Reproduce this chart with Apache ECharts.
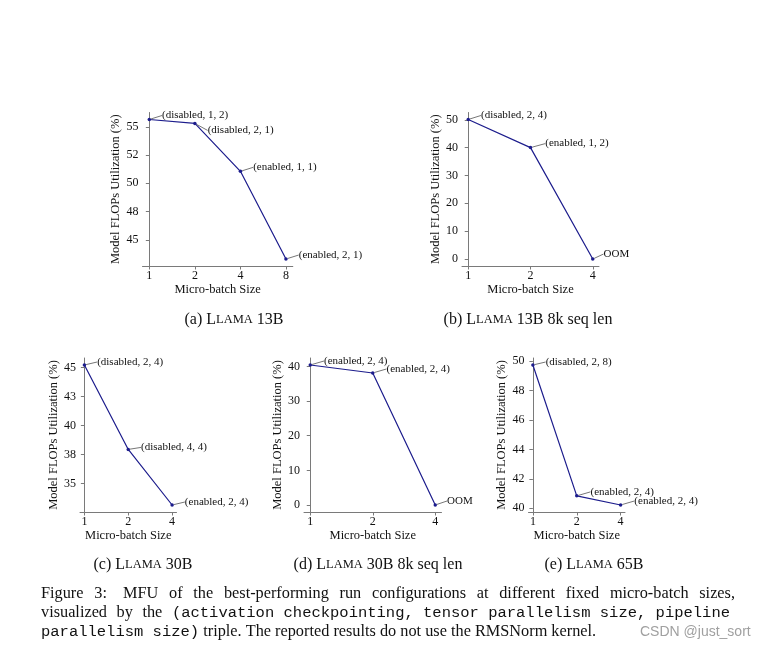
<!DOCTYPE html>
<html><head><meta charset="utf-8">
<script src="https://cdn.jsdelivr.net/npm/echarts@6/dist/echarts.min.js"></script>
<style>html,body{margin:0;padding:0;background:#fff}#c{width:762px;height:648px}</style>
</head><body><div id="c"></div>
<script>
// ---------- data ----------
const microBatchA = ['1', '2', '4', '8'];
const mfuA = [55.65, 55.3, 51.06, 43.3];
const annotA = ['(disabled, 1, 2)', '(disabled, 2, 1)', '(enabled, 1, 1)', '(enabled, 2, 1)'];
const yTickValsA = [45, 47.5, 50, 52.5, 55];
const yTickLabelsA = ['45', '48', '50', '52', '55'];

const microBatchB = ['1', '2', '4'];
const mfuB = [50.1, 40.0, 0];
const annotB = ['(disabled, 2, 4)', '(enabled, 1, 2)', 'OOM'];
const yTickValsB = [0, 10, 20, 30, 40, 50];
const yTickLabelsB = ['0', '10', '20', '30', '40', '50'];

const microBatchC = ['1', '2', '4'];
const mfuC = [45.22, 37.93, 33.13];
const annotC = ['(disabled, 2, 4)', '(disabled, 4, 4)', '(enabled, 2, 4)'];
const yTickValsC = [35, 37.5, 40, 42.5, 45];
const yTickLabelsC = ['35', '38', '40', '43', '45'];

const microBatchD = ['1', '2', '4'];
const mfuD = [40.4, 38.1, 0];
const annotD = ['(enabled, 2, 4)', '(enabled, 2, 4)', 'OOM'];
const yTickValsD = [0, 10, 20, 30, 40];
const yTickLabelsD = ['0', '10', '20', '30', '40'];

const microBatchE = ['1', '2', '4'];
const mfuE = [49.73, 40.84, 40.22];
const annotE = ['(disabled, 2, 8)', '(enabled, 2, 4)', '(enabled, 2, 4)'];
const yTickValsE = [40, 42, 44, 46, 48, 50];
const yTickLabelsE = ['40', '42', '44', '46', '48', '50'];

const xTitle = 'Micro-batch Size';
const yTitle = 'Model FLOPs Utilization (%)';
const subTitles = [
  ['(a) L', 'LAMA', ' 13B'],
  ['(b) L', 'LAMA', ' 13B 8k seq len'],
  ['(c) L', 'LAMA', ' 30B'],
  ['(d) L', 'LAMA', ' 30B 8k seq len'],
  ['(e) L', 'LAMA', ' 65B']
];
const captionLine1 = ['Figure', '3:', 'MFU', 'of', 'the', 'best-performing', 'run', 'configurations', 'at', 'different', 'fixed', 'micro-batch', 'sizes,'];
const captionLine2Serif = ['visualized', 'by', 'the'];
const captionLine2Mono = '(activation checkpointing, tensor parallelism size, pipeline';
const captionLine3Mono = 'parallelism size)';
const captionLine3Serif = ' triple. The reported results do not use the RMSNorm kernel.';
const watermark = 'CSDN @just_sort';

// ---------- layout / style ----------
const SERIF = '"Liberation Serif", "Times New Roman", serif';
const MONO = '"Liberation Mono", "DejaVu Sans Mono", monospace';
const AXIS_COLOR = '#7a7a7a';
const LINE_COLOR = '#1c1c8c';
const CAP_SERIF_SIZE = 16.3, CAP_MONO_SIZE = 15.5;

const panels = [
  { x: microBatchA, y: mfuA, ann: annotA, tv: yTickValsA, tl: yTickLabelsA,
    grid: { left: 142.5, top: 112.5, width: 150.3, height: 153.5 },
    title: { x: 234, y: 320 }, offs: [[11, -4], [11, 7], [11, -4], [11, -4]] },
  { x: microBatchB, y: mfuB, ann: annotB, tv: yTickValsB, tl: yTickLabelsB,
    grid: { left: 462, top: 112.5, width: 137, height: 153.5 },
    title: { x: 528, y: 320 }, offs: [[11, -4], [13, -4], [9, -5]] },
  { x: microBatchC, y: mfuC, ann: annotC, tv: yTickValsC, tl: yTickLabelsC,
    grid: { left: 80, top: 358, width: 96.5, height: 154 },
    title: { x: 143, y: 565 }, offs: [[11, -3], [11, -2], [11, -3]] },
  { x: microBatchD, y: mfuD, ann: annotD, tv: yTickValsD, tl: yTickLabelsD,
    grid: { left: 304, top: 358, width: 137.5, height: 154 },
    title: { x: 378, y: 565 }, offs: [[12, -4], [12, -4], [10, -4]] },
  { x: microBatchE, y: mfuE, ann: annotE, tv: yTickValsE, tl: yTickLabelsE,
    grid: { left: 528.5, top: 358, width: 96.5, height: 154 },
    title: { x: 594, y: 565 }, offs: [[11, -3], [12, -4], [12, -4]] }
];

const grids = [], xAxes = [], yAxes = [], series = [], graphics = [];

panels.forEach((p, i) => {
  const n = p.x.length;
  const lo = Math.min(...p.y), hi = Math.max(...p.y);
  const pad = (hi - lo) * 0.05;
  grids.push(Object.assign({ containLabel: false }, p.grid));
  const xIdx = p.x.map((_, j) => j);
  xAxes.push({
    type: 'value', gridIndex: i, min: -0.05 * (n - 1), max: (n - 1) * 1.05,
    name: xTitle, nameLocation: 'middle', nameGap: 17,
    nameTextStyle: { fontFamily: SERIF, fontSize: 12.5, color: '#111' },
    axisLine: { show: true, onZero: false, lineStyle: { color: AXIS_COLOR, width: 1 } },
    axisTick: { show: true, inside: false, length: 3.5, customValues: xIdx, lineStyle: { color: AXIS_COLOR } },
    axisLabel: { customValues: xIdx, margin: 4, fontFamily: SERIF, fontSize: 12, color: '#111',
      formatter: v => p.x[Math.round(v)] },
    splitLine: { show: false }
  });
  yAxes.push({
    type: 'value', gridIndex: i, min: lo - pad, max: hi + pad,
    name: yTitle, nameLocation: 'middle', nameGap: 20, nameRotate: 90,
    nameTextStyle: { fontFamily: SERIF, fontSize: 12.5, color: '#111' },
    axisLine: { show: true, lineStyle: { color: AXIS_COLOR, width: 1 } },
    axisTick: { show: true, inside: false, length: 3.5, customValues: p.tv, lineStyle: { color: AXIS_COLOR } },
    axisLabel: { customValues: p.tv, margin: 4, fontFamily: SERIF, fontSize: 12, color: '#111',
      formatter: v => { const k = p.tv.findIndex(t => Math.abs(t - v) < 1e-6); return k >= 0 ? p.tl[k] : ''; } },
    splitLine: { show: false }
  });
  series.push({
    type: 'line', xAxisIndex: i, yAxisIndex: i,
    data: p.y.map((v, j) => [j, v]),
    symbol: 'circle', symbolSize: 3.5, showSymbol: true,
    lineStyle: { color: LINE_COLOR, width: 1.2 },
    itemStyle: { color: LINE_COLOR },
    label: { show: true, position: 'right', distance: 0,
      formatter: prm => p.ann[prm.dataIndex],
      fontFamily: SERIF, fontSize: 11, color: '#111' },
    labelLayout: prm => ({ dx: p.offs[prm.dataIndex][0], dy: p.offs[prm.dataIndex][1] }),
    labelLine: { show: true, lineStyle: { color: '#777', width: 1 } },
    emphasis: { disabled: true }
  });
  const t = subTitles[i];
  graphics.push({
    type: 'text', x: p.title.x, y: p.title.y,
    style: { text: '{n|' + t[0] + '}{s|' + t[1] + '}{n|' + t[2] + '}',
      align: 'center', verticalAlign: 'middle',
      rich: { n: { fontFamily: SERIF, fontSize: 16, fill: '#111' },
              s: { fontFamily: SERIF, fontSize: 12.5, fill: '#111' } } }
  });
});

// ---------- caption (justified like the LaTeX original) ----------
const mctx = document.createElement('canvas').getContext('2d');
function tw(s, size, fam) { mctx.font = size + 'px ' + fam; return mctx.measureText(s).width; }
const serifFont = CAP_SERIF_SIZE + 'px ' + SERIF;

// line 1: justify to x=735, the gap after "3:" is 1.5x wider
(function () {
  const left = 41, right = 735;
  const wordsW = captionLine1.reduce((a, w) => a + tw(w, CAP_SERIF_SIZE, SERIF), 0);
  const gapUnits = (captionLine1.length - 1) + 0.5;
  const gw = (right - left - wordsW) / gapUnits;
  let x = left;
  captionLine1.forEach((w, k) => {
    graphics.push({ type: 'text', x: x, y: 594, style: { text: w, font: serifFont, fill: '#111', verticalAlign: 'middle' } });
    x += tw(w, CAP_SERIF_SIZE, SERIF) + gw * (k === 1 ? 1.5 : 1);
  });
})();
// line 2: serif words stretch, monospace block fixed, justified to x=730
(function () {
  const left = 41, right = 730;
  const monoW = tw(captionLine2Mono, CAP_MONO_SIZE, MONO);
  const wordsW = captionLine2Serif.reduce((a, w) => a + tw(w, CAP_SERIF_SIZE, SERIF), 0);
  const gw = (right - left - monoW - wordsW) / captionLine2Serif.length;
  let x = left;
  captionLine2Serif.forEach(w => {
    graphics.push({ type: 'text', x: x, y: 613, style: { text: w, font: serifFont, fill: '#111', verticalAlign: 'middle' } });
    x += tw(w, CAP_SERIF_SIZE, SERIF) + gw;
  });
  graphics.push({ type: 'text', x: x, y: 613, style: { text: captionLine2Mono, font: CAP_MONO_SIZE + 'px ' + MONO, fill: '#111', verticalAlign: 'middle' } });
})();
// line 3: natural spacing
graphics.push({ type: 'text', x: 41, y: 632, style: { text: '{m|' + captionLine3Mono + '}{n|' + captionLine3Serif + '}', verticalAlign: 'middle',
  rich: { n: { fontFamily: SERIF, fontSize: CAP_SERIF_SIZE, fill: '#111' }, m: { fontFamily: MONO, fontSize: CAP_MONO_SIZE, fill: '#111' } } } });
graphics.push({ type: 'text', x: 640, y: 632, style: { text: watermark, verticalAlign: 'middle', fontFamily: '"Liberation Sans", Arial, sans-serif', fontSize: 14, fill: '#a0a0a0' } });

const chart = echarts.init(document.getElementById('c'), null, { renderer: 'canvas' });
chart.setOption({
  animation: false,
  backgroundColor: '#fff',
  grid: grids, xAxis: xAxes, yAxis: yAxes, series: series, graphic: graphics
});
</script>
</body></html>
